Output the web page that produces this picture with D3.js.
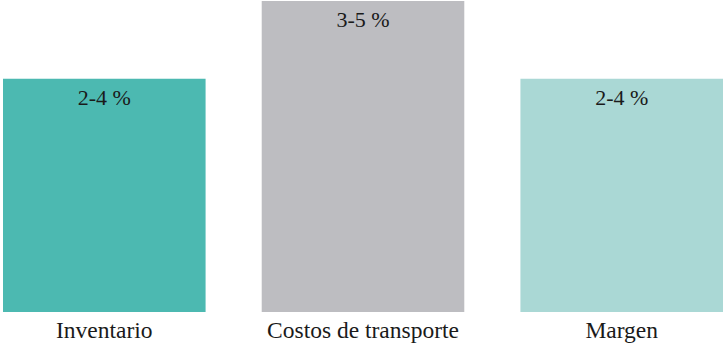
<!DOCTYPE html>
<html>
<head>
<meta charset="utf-8">
<script src="https://cdn.jsdelivr.net/npm/d3@7"></script>
<style>
  html, body { margin: 0; padding: 0; background: #ffffff; }
  svg { display: block; }
  text { font-family: "Liberation Serif", "Times New Roman", serif; fill: #1a1a1a; }
</style>
</head>
<body>
<svg id="chart" width="724" height="344"></svg>
<script>
// Cost components (percent ranges); bar height uses the midpoint of each range
const categories = ["Inventario", "Costos de transporte", "Margen"];
const rangeLabels = ["2-4 %", "3-5 %", "2-4 %"];
const values = [3, 4, 3];
const colors = ["#4cb9b1", "#bdbdc1", "#aad8d5"];

const width = 724, height = 344;
const svg = d3.select("#chart");

const x = d3.scaleBand()
  .domain(categories)
  .range([3, 723])
  .paddingInner(0.217)
  .paddingOuter(0);

const y = d3.scaleLinear()
  .domain([0, 4])
  .range([312, 1]);

const data = categories.map((c, i) => ({ cat: c, label: rangeLabels[i], value: values[i], color: colors[i] }));

svg.selectAll("rect.bar")
  .data(data)
  .join("rect")
  .attr("class", "bar")
  .attr("x", d => x(d.cat))
  .attr("width", x.bandwidth())
  .attr("y", d => y(d.value))
  .attr("height", d => y(0) - y(d.value))
  .attr("fill", d => d.color);

svg.selectAll("text.value")
  .data(data)
  .join("text")
  .attr("class", "value")
  .attr("x", d => x(d.cat) + x.bandwidth() / 2)
  .attr("y", d => y(d.value) + 26)
  .attr("text-anchor", "middle")
  .style("font-size", "22px")
  .text(d => d.label);

// Category axis below the bars (no line, no ticks)
const axis = d3.axisBottom(x).tickSize(0).tickPadding(0);
const g = svg.append("g")
  .attr("transform", `translate(0, ${y(0)})`)
  .call(axis);
g.select(".domain").remove();
g.selectAll("text")
  .attr("y", 26)
  .attr("dy", 0)
  .style("font-size", "23.5px")
  .style("font-family", "'Liberation Serif', 'Times New Roman', serif")
  .attr("fill", "#1a1a1a");
</script>
</body>
</html>
